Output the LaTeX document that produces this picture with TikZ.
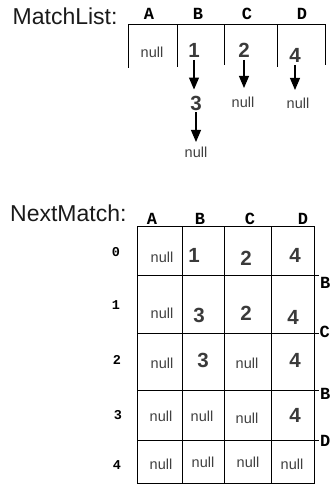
\documentclass[tikz,border=0pt]{standalone}
\usepackage{fontspec}
\setmainfont{Liberation Sans}
\newfontfamily\hdrfont{Liberation Mono}
\usetikzlibrary{arrows.meta}
\definecolor{titleblack}{HTML}{1A1A1A}
\definecolor{nullgray}{HTML}{404040}
\definecolor{numgray}{HTML}{3A3A3A}
\begin{document}
\begin{tikzpicture}[x=1pt,y=-1pt,
  title/.style={font=\fontsize{23}{26}\selectfont, text=titleblack, inner sep=0pt, anchor=west},
  hdr/.style={font=\hdrfont\bfseries\fontsize{17}{19}\selectfont, inner sep=0pt},
  rowlbl/.style={font=\hdrfont\bfseries\fontsize{13.5}{15}\selectfont, inner sep=0pt},
  edgelbl/.style={font=\hdrfont\bfseries\fontsize{17}{19}\selectfont, inner sep=0pt, anchor=west},
  nul/.style={font=\fontsize{14.5}{16}\selectfont, text=nullgray, inner sep=2pt},
  num/.style={font=\bfseries\fontsize{20.5}{22}\selectfont, text=numgray, inner sep=2pt},
  gridline/.style={line width=0.9pt, draw=black},
  ptr/.style={line width=1.1pt, -{Triangle[width=10pt,length=12pt]}},
]
\useasboundingbox (0,0) rectangle (331,485);

% ---------- MatchList ----------
\node[title] (mltitle) at (12.5,16.5) {MatchList:};
\node[hdr] (mhA) at (149,14) {A};
\node[hdr] (mhB) at (198,14) {B};
\node[hdr] (mhC) at (247,14) {C};
\node[hdr] (mhD) at (302,14) {D};

\draw[gridline] (128,24) -- (325,24);
\draw[gridline] (128,24) -- (128,68);
\draw[gridline] (177,24) -- (177,67);
\draw[gridline] (224,24) -- (224,65);
\draw[gridline] (277,24) -- (277,67);
\draw[gridline] (325,24) -- (325,65);

\node[nul] (mA) at (152,52.5) {null};
\node[num] (mB1) at (194,50.5) {1};
\node[num] (mC2) at (244,50.5) {2};
\node[num] (mD4) at (295,55.5) {4};

\node[num] (mB3) at (196,103) {3};
\node[nul] (mBnull) at (196,152) {null};
\node[nul] (mCnull) at (243,102) {null};
\node[nul] (mDnull) at (298,103) {null};

\draw[ptr, shorten >=4pt] (mB1.south) -- (mB1.south |- mB3.north);
\draw[ptr, shorten >=2.5pt] (mB3.south) -- (mB3.south |- mBnull.north);
\draw[ptr, shorten >=6.5pt] (mC2.south) -- (mC2.south |- mCnull.north);
\draw[ptr, shorten >=5.5pt] (mD4.south) -- (mD4.south |- mDnull.north);

% ---------- NextMatch ----------
\node[title] (nmtitle) at (10,213) {NextMatch:};
\node[hdr] (nhA) at (152,219) {A};
\node[hdr] (nhB) at (200,219) {B};
\node[hdr] (nhC) at (250,219) {C};
\node[hdr] (nhD) at (303,219) {D};

\foreach \x in {137,182,224,271,314} \draw[gridline] (\x,226) -- (\x,483.5);
\draw[gridline] (137,226) -- (314,226);
\foreach \y in {275,333,390,440} \draw[gridline] (137,\y) -- (319,\y);
\draw[gridline] (137,483.5) -- (314,483.5);

\node[edgelbl] (eB1) at (320,282.5) {B};
\node[edgelbl] (eC) at (319.5,332) {C};
\node[edgelbl] (eB2) at (320,394) {B};
\node[edgelbl] (eD) at (320,441) {D};

\node[rowlbl] (r0) at (116,252) {0};
\node[rowlbl] (r1) at (116,305) {1};
\node[rowlbl] (r2) at (117,360) {2};
\node[rowlbl] (r3) at (118,415) {3};
\node[rowlbl] (r4) at (117,465) {4};

% row 0
\node[nul] (c0A) at (162,257) {null};
\node[num] (c0B) at (194,255) {1};
\node[num] (c0C) at (246,258) {2};
\node[num] (c0D) at (295,255) {4};
% row 1
\node[nul] (c1A) at (162,313) {null};
\node[num] (c1B) at (199,315) {3};
\node[num] (c1C) at (246,313) {2};
\node[num] (c1D) at (293,317) {4};
% row 2
\node[nul] (c2A) at (162,363) {null};
\node[num] (c2B) at (203,360) {3};
\node[nul] (c2C) at (247,363) {null};
\node[num] (c2D) at (295,360) {4};
% row 3
\node[nul] (c3A) at (161,416) {null};
\node[nul] (c3B) at (202,416) {null};
\node[nul] (c3C) at (247,418) {null};
\node[num] (c3D) at (295,415) {4};
% row 4
\node[nul] (c4A) at (161,464) {null};
\node[nul] (c4B) at (203,462) {null};
\node[nul] (c4C) at (248,462) {null};
\node[nul] (c4D) at (292,464) {null};
\end{tikzpicture}
\end{document}
